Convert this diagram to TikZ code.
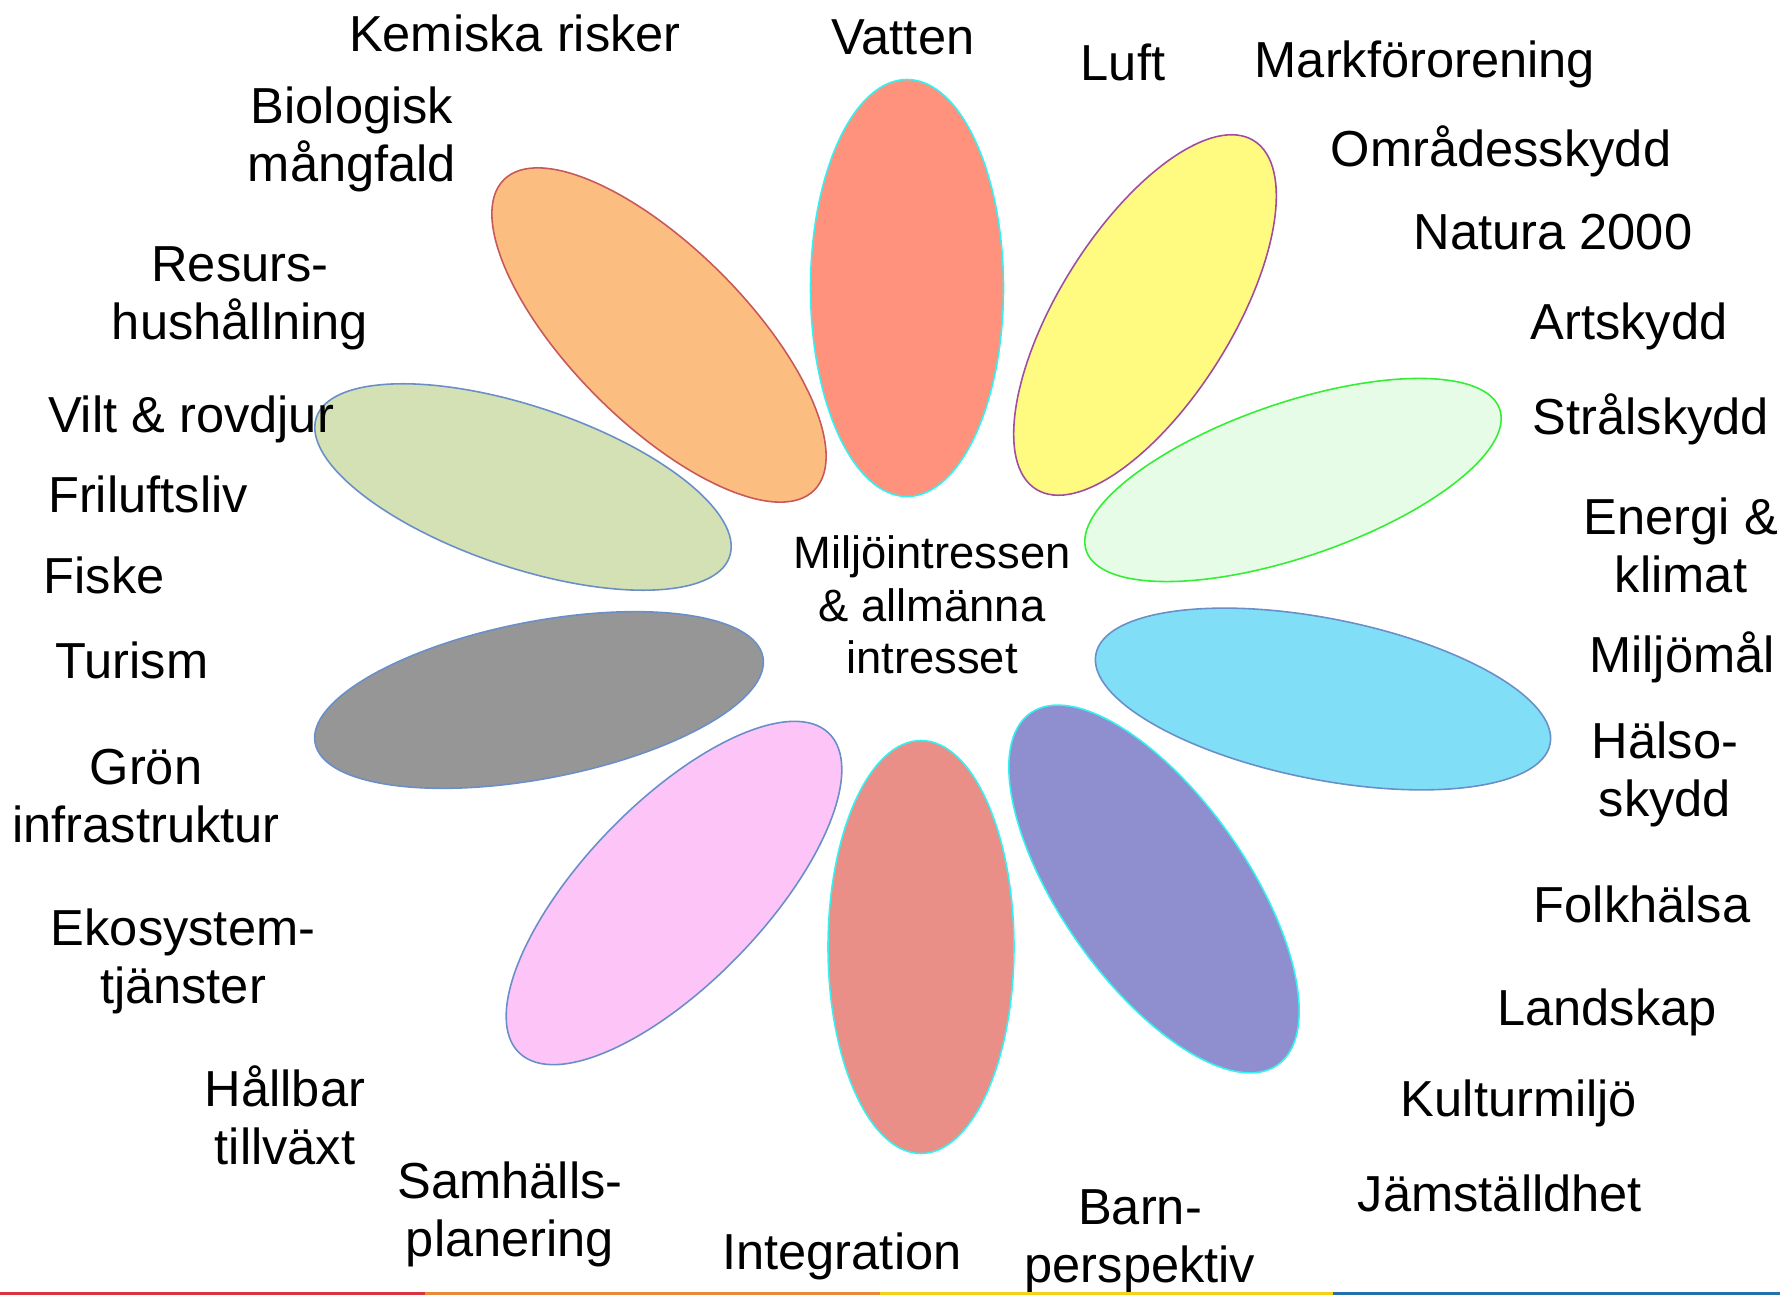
\documentclass[tikz,border=0pt]{standalone}
\usepackage{fontspec}
\setmainfont{Liberation Sans}
\usepackage{xcolor}
\usepackage{tikz}
\usetikzlibrary{shapes.geometric}
\definecolor{vatfill}{HTML}{FF927C}
\definecolor{luftfill}{HTML}{FFFA80}
\definecolor{luftdraw}{HTML}{A04DA0}
\definecolor{stralfill}{HTML}{E6FCE6}
\definecolor{straldraw}{HTML}{33EE33}
\definecolor{cyanfill}{HTML}{80DEF7}
\definecolor{purpfill}{HTML}{8F8FCF}
\definecolor{barnfill}{HTML}{E98F87}
\definecolor{pinkfill}{HTML}{FCC4F7}
\definecolor{greyfill}{HTML}{969696}
\definecolor{greenfill}{HTML}{D4E1B5}
\definecolor{orfill}{HTML}{FBBD80}
\definecolor{ordraw}{HTML}{C8585A}
\definecolor{bluedraw}{HTML}{6A8FC8}
\definecolor{cyandraw}{HTML}{33F2F2}
\definecolor{barred}{HTML}{D9343F}
\definecolor{barorange}{HTML}{E8893A}
\definecolor{baryellow}{HTML}{F5D11C}
\definecolor{barblue}{HTML}{2470A8}
\tikzset{
  petal/.style={ellipse, inner sep=0pt, line width=0.45pt},
  lbl/.style={align=center, font=\fontsize{14.4pt}{16.5pt}\selectfont, inner sep=0pt},
  core/.style={align=center, font=\fontsize{12.9pt}{15pt}\selectfont, inner sep=0pt},
}

\begin{document}
\begin{tikzpicture}
  \useasboundingbox (0,0) rectangle (17.80,12.95);
  % petals
  \node[petal, fill=vatfill, draw=cyandraw, minimum width=4.17cm, minimum height=1.93cm, rotate=90] (p_vat) at (9.07,10.07) {};
  \node[petal, fill=luftfill, draw=luftdraw, minimum width=4.11cm, minimum height=1.73cm, rotate=58] (p_luft) at (11.45,9.80) {};
  \node[petal, fill=stralfill, draw=straldraw, minimum width=4.37cm, minimum height=1.54cm, rotate=18.9] (p_stral) at (12.93,8.15) {};
  \node[petal, fill=cyanfill, draw=bluedraw, minimum width=4.63cm, minimum height=1.61cm, rotate=-11.2] (p_mal) at (13.23,5.96) {};
  \node[petal, fill=purpfill, draw=cyandraw, minimum width=4.30cm, minimum height=1.86cm, rotate=-54.9] (p_halsa) at (11.54,4.06) {};
  \node[petal, fill=barnfill, draw=cyandraw, minimum width=4.13cm, minimum height=1.86cm, rotate=90] (p_barn) at (9.21,3.48) {};
  \node[petal, fill=pinkfill, draw=bluedraw, minimum width=4.45cm, minimum height=1.80cm, rotate=45.9] (p_samh) at (6.74,4.02) {};
  \node[petal, fill=greyfill, draw=bluedraw, minimum width=4.56cm, minimum height=1.57cm, rotate=10.9] (p_gron) at (5.39,5.95) {};
  \node[petal, fill=greenfill, draw=bluedraw, minimum width=4.36cm, minimum height=1.61cm, rotate=-18.6] (p_vilt) at (5.23,8.08) {};
  \node[petal, fill=orfill, draw=ordraw, minimum width=4.39cm, minimum height=1.75cm, rotate=-45] (p_bio) at (6.59,9.60) {};
  \node[core] (mitt) at (9.32,6.90) {Miljöintressen\\\& allmänna\\intresset};
  % labels
  \node[lbl] (l_kem) at (5.15,12.62) {Kemiska risker};
  \node[lbl] (l_vat) at (9.03,12.58) {Vatten};
  \node[lbl] (l_luft) at (11.23,12.33) {Luft};
  \node[lbl] (l_mark) at (14.25,12.31) {Markförorening};
  \node[lbl] (l_omr) at (15.01,11.44) {Områdesskydd};
  \node[lbl] (l_nat) at (15.53,10.63) {Natura 2000};
  \node[lbl] (l_art) at (16.29,9.69) {Artskydd};
  \node[lbl] (l_stral) at (16.51,8.76) {Strålskydd};
  \node[lbl] (l_energi) at (16.81,7.50) {Energi \&\\klimat};
  \node[lbl] (l_mal) at (16.82,6.38) {Miljömål};
  \node[lbl] (l_hals) at (16.65,5.21) {Hälso-\\skydd};
  \node[lbl] (l_folk) at (16.42,3.91) {Folkhälsa};
  \node[lbl] (l_land) at (16.07,2.83) {Landskap};
  \node[lbl] (l_kult) at (15.19,1.92) {Kulturmiljö};
  \node[lbl] (l_jam) at (15.00,1.02) {Jämställdhet};
  \node[lbl] (l_barn) at (11.40,0.54) {Barn-\\perspektiv};
  \node[lbl] (l_int) at (8.42,0.39) {Integration};
  \node[lbl] (l_samh) at (5.10,0.81) {Samhälls-\\planering};
  \node[lbl] (l_hall) at (2.85,1.80) {Hållbar\\tillväxt};
  \node[lbl] (l_eko) at (1.83,3.34) {Ekosystem-\\tjänster};
  \node[lbl] (l_gron) at (1.46,4.99) {Grön\\infrastruktur};
  \node[lbl] (l_tur) at (1.32,6.35) {Turism};
  \node[lbl] (l_fisk) at (1.04,7.20) {Fiske};
  \node[lbl] (l_fri) at (1.48,8.01) {Friluftsliv};
  \node[lbl] (l_vilt) at (1.91,8.76) {Vilt \& rovdjur};
  \node[lbl] (l_res) at (2.40,9.97) {Resurs-\\hushållning};
  \node[lbl] (l_bio) at (3.52,11.56) {Biologisk\\mångfald};
  % colour bar at the bottom
  \fill[barred] (0,0) rectangle (4.25,0.03);
  \fill[barorange] (4.25,0) rectangle (8.80,0.03);
  \fill[baryellow] (8.80,0) rectangle (13.33,0.03);
  \fill[barblue] (13.33,0) rectangle (17.80,0.03);
\end{tikzpicture}
\end{document}
